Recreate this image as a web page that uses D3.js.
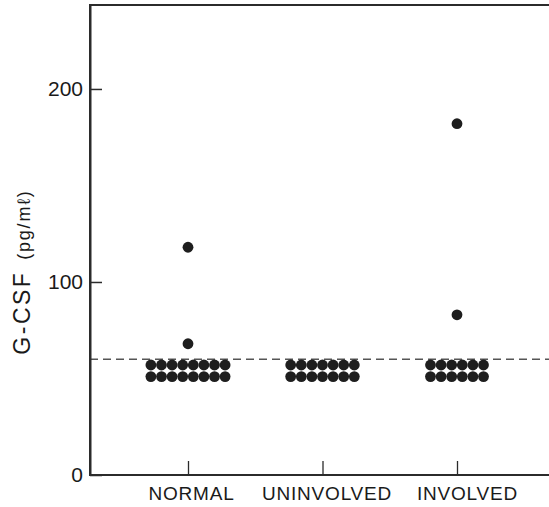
<!DOCTYPE html>
<html>
<head>
<meta charset="utf-8">
<script src="https://cdn.jsdelivr.net/npm/d3@7"></script>
<style>
  html, body { margin: 0; padding: 0; background: #fff; }
  svg { display: block; }
</style>
</head>
<body>
<svg id="chart" width="549" height="507"></svg>
<script>
// ---- data ----
const categories = ["NORMAL", "UNINVOLVED", "INVOLVED"];
const normalValues = [118, 68, 57, 57, 57, 57, 57, 57, 57, 57, 51, 51, 51, 51, 51, 51, 51, 51];
const uninvolvedValues = [57, 57, 57, 57, 57, 57, 57, 51, 51, 51, 51, 51, 51, 51];
const involvedValues = [182, 83, 57, 57, 57, 57, 57, 57, 51, 51, 51, 51, 51, 51];
const yTickValues = [0, 100, 200];
const cutoffValue = 60;
const yLabelMain = "G-CSF";
const yLabelUnit = "(pg/mℓ)";

// ---- layout ----
const mLeft = 90, mTop = 5, mBottom = 475, mRight = 560;
const ink = "#2b2b2b";
const svg = d3.select("#chart");

const y = d3.scaleLinear().domain([0, 243.5]).range([mBottom, mTop]);
const x = d3.scalePoint().domain(categories).range([188, 457]);

const groups = [
  { cat: categories[0], values: normalValues },
  { cat: categories[1], values: uninvolvedValues },
  { cat: categories[2], values: involvedValues }
];

// frame top line
svg.append("line")
  .attr("x1", mLeft).attr("x2", mRight)
  .attr("y1", mTop).attr("y2", mTop)
  .attr("stroke", ink).attr("stroke-width", 2);

// cutoff dashed line
svg.append("line")
  .attr("x1", mLeft).attr("x2", mRight)
  .attr("y1", y(cutoffValue)).attr("y2", y(cutoffValue))
  .attr("stroke", "#555").attr("stroke-width", 1.4)
  .attr("stroke-dasharray", "8,5");

// y axis
const yAxis = svg.append("g")
  .attr("transform", `translate(${mLeft},0)`)
  .call(d3.axisLeft(y).tickValues(yTickValues).tickSizeInner(-12).tickSizeOuter(0).tickPadding(7).tickFormat(d3.format("d")));
yAxis.select(".domain").attr("stroke", ink).attr("stroke-width", 2);
yAxis.selectAll(".tick line").attr("stroke", ink).attr("stroke-width", 1.5);
yAxis.selectAll(".tick text")
  .attr("fill", "#1a1a1a")
  .style("font-family", "'Liberation Sans', Arial, sans-serif")
  .style("font-size", "21px");

// x axis
const xAxis = svg.append("g")
  .attr("transform", `translate(0,${mBottom})`)
  .call(d3.axisBottom(x).tickSizeInner(-14).tickSizeOuter(0).tickPadding(12));
xAxis.select(".domain").attr("d", `M${mLeft},0H${mRight}`).attr("stroke", ink).attr("stroke-width", 2.2);
xAxis.selectAll(".tick line").attr("stroke", ink).attr("stroke-width", 1.3);
xAxis.selectAll(".tick text")
  .attr("fill", "#1a1a1a")
  .attr("dx", (d, i) => [3, 4, 10][i])
  .style("font-family", "'Liberation Sans', Arial, sans-serif")
  .style("font-size", "19px")
  .style("letter-spacing", "0.8px");

// left axis line extends to top
svg.append("line")
  .attr("x1", mLeft).attr("x2", mLeft)
  .attr("y1", mTop - 1).attr("y2", mBottom + 1)
  .attr("stroke", ink).attr("stroke-width", 2);

// dots: identical values placed side by side
const spacing = 10.6;
const pts = [];
groups.forEach(g => {
  const counts = d3.rollup(g.values, v => v.length, d => d);
  const seen = new Map();
  g.values.forEach(v => {
    const n = counts.get(v);
    const i = seen.get(v) || 0;
    seen.set(v, i + 1);
    pts.push({ cat: g.cat, value: v, off: (i - (n - 1) / 2) * spacing });
  });
});

svg.append("g").selectAll("circle")
  .data(pts)
  .join("circle")
  .attr("cx", d => x(d.cat) + d.off)
  .attr("cy", d => y(d.value))
  .attr("r", 5.4)
  .attr("fill", "#1e1e1e");

// y axis title
const title = svg.append("text")
  .attr("transform", `translate(30,272) rotate(-90)`)
  .attr("text-anchor", "middle")
  .attr("fill", "#1a1a1a")
  .style("font-family", "'Liberation Sans', Arial, sans-serif");
title.append("tspan").text(yLabelMain).style("font-size", "23px").style("letter-spacing", "2.5px");
title.append("tspan").text(" " + yLabelUnit).style("font-size", "18px").style("letter-spacing", "1.8px").attr("dx", 4);
</script>
</body>
</html>
